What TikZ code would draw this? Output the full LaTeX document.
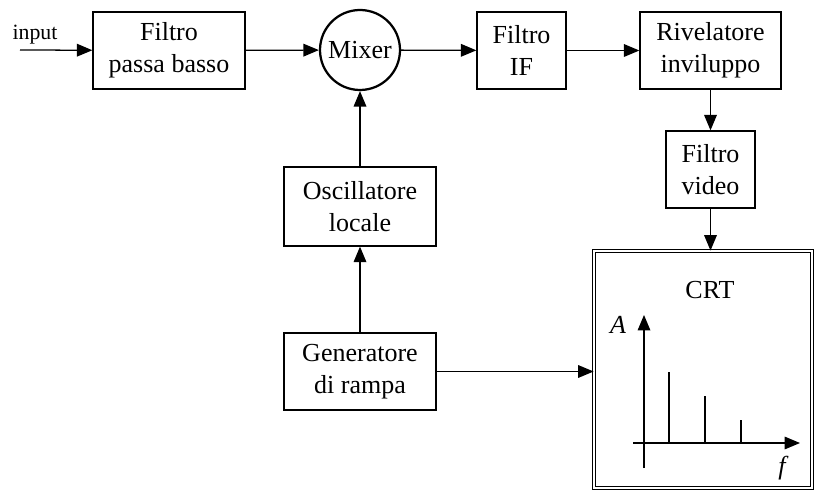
\documentclass[tikz,border=0pt]{standalone}
\usepackage{fontspec}
\setmainfont{Liberation Serif}
\usepackage{tikz}
\usetikzlibrary{arrows.meta, calc, positioning}
\tikzset{
  block/.style={draw, line width=0.9pt, align=center, inner sep=2pt,
    font=\fontsize{18.5}{22.5}\selectfont, minimum height=1.925cm},
  conn/.style={-{Triangle[length=11pt, width=9pt]}, line width=0.9pt}
}

\begin{document}
\begin{tikzpicture}
  \useasboundingbox (0,0) rectangle (20.375,-12.275);
  % top chain
  \node[block, minimum width=3.8cm] (lpf) at (4.225,-1.2625) {Filtro\\passa basso};
  \node[draw, circle, line width=1.6pt, minimum size=2cm, inner sep=0pt,
        font=\fontsize{18.5}{22.5}\selectfont] (mix) at (9.0,-1.25) {Mixer};
  \node[block, minimum width=2.225cm] (ifl) at (13.0375,-1.2625) {Filtro\\IF};
  \node[block, minimum width=3.525cm] (env) at (17.7625,-1.2625) {Rivelatore\\inviluppo};
  \node[block, minimum width=2.225cm] (vid) at (17.7625,-4.2375) {Filtro\\video};
  % local oscillator and ramp
  \node[block, minimum width=3.8cm, minimum height=1.975cm] (osc) at (9.0,-5.1625) {Oscillatore\\locale};
  \node[block, minimum width=3.8cm] (ramp) at (9.0,-9.2875) {Generatore\\di rampa};
  % CRT screen
  \node[draw, double, line width=0.6pt, double distance=1.1pt,
        minimum width=5.45cm, minimum height=5.925cm] (crt) at (17.575,-9.2375) {};
  \node[font=\fontsize{18.5}{22.5}\selectfont] (crtlbl) at (17.75,-7.25) {CRT};
  % input
  \coordinate (in) at (0.5,-1.25);
  \node[font=\fontsize{15.5}{18}\selectfont, anchor=base] (inlbl) at (0.875,-1.0) {input};
  % connectors
  \draw[conn] (in) -- (lpf);
  \draw[conn] (lpf) -- (mix);
  \draw[conn] (mix) -- (ifl);
  \draw[conn] (ifl) -- (env);
  \draw[conn] (env) -- (vid);
  \draw[conn] (vid.south) -- (vid.south |- crt.north);
  \draw[conn] (ramp) -- (osc);
  \draw[conn] (osc) -- (mix);
  \draw[conn] (ramp.east) -- (ramp.east -| crt.west);
  % spectrum axes
  \coordinate (yb) at (16.1,-11.7);
  \coordinate (yt) at (16.1,-7.875);
  \coordinate (xl) at (15.825,-11.075);
  \coordinate (xr) at (20.0,-11.075);
  \draw[conn] (yb) -- (yt);
  \draw[conn] (xl) -- (xr);
  \node[font=\itshape\fontsize{18.5}{22.5}\selectfont] (alb) at (15.45,-8.125) {A};
  \node[font=\itshape\fontsize{18.5}{22.5}\selectfont] (flb) at (19.55,-11.7) {f};
  % spectral lines
  \foreach \x/\h in {16.725/-9.3, 17.625/-9.9, 18.525/-10.5}
    \draw[line width=0.9pt] (\x,-11.075) -- (\x,\h);
\end{tikzpicture}
\end{document}
